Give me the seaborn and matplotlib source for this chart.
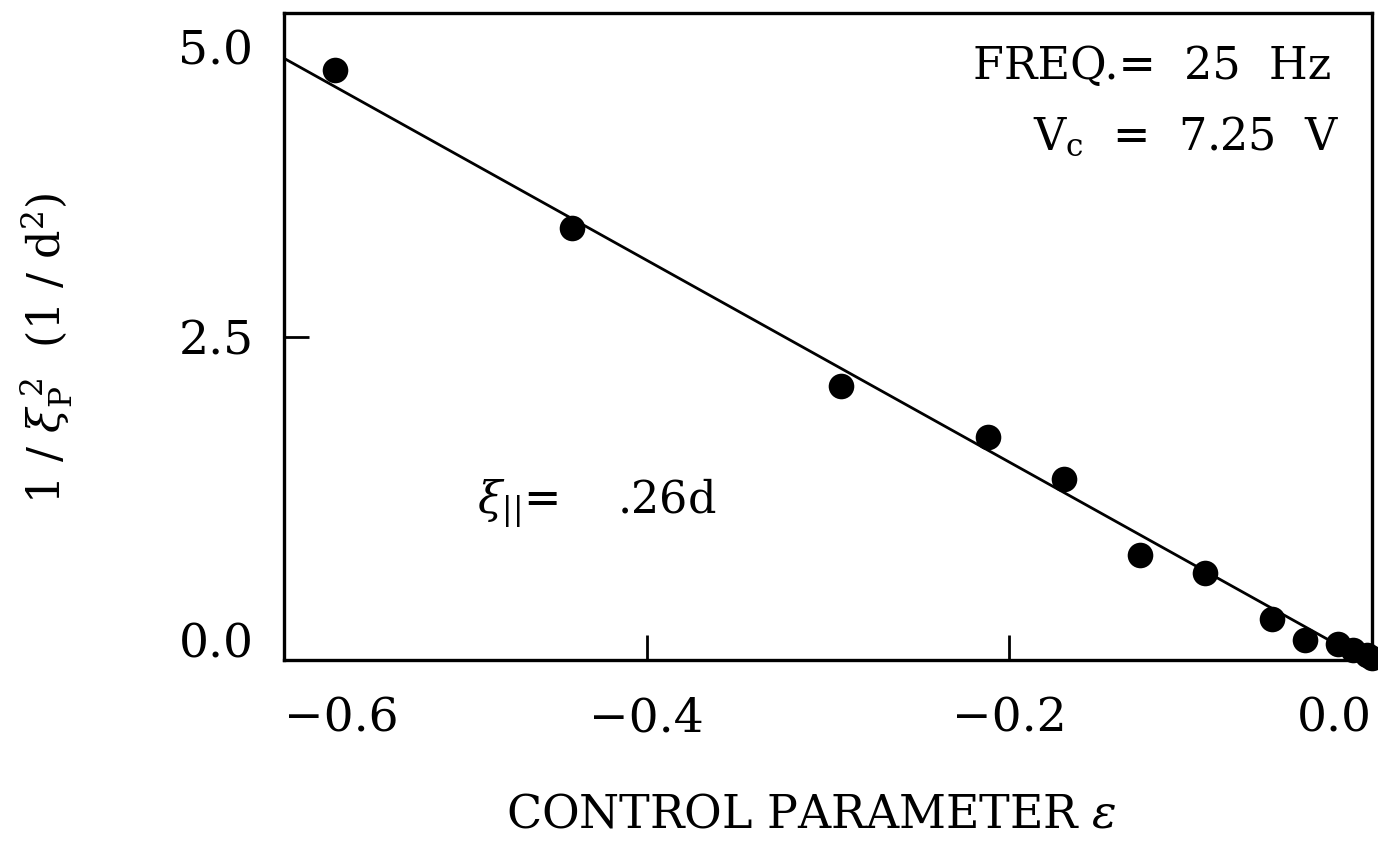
import matplotlib
matplotlib.use("Agg")
import matplotlib.pyplot as plt
import matplotlib.transforms as mtransforms
import seaborn as sns
import pandas as pd

# data
eps = [-0.572, -0.441, -0.293, -0.212, -0.170, -0.128, -0.092, -0.055,
       -0.037, -0.019, -0.0105, -0.003, 0.0]
inv_xi2 = [4.56, 3.34, 2.12, 1.72, 1.40, 0.81, 0.67, 0.32,
           0.155, 0.12, 0.08, 0.04, 0.015]
fit_x = [-0.6, -0.004]
fit_y = [4.65, 0.0]
xticks = [-0.6, -0.4, -0.2, 0.0]
xtick_labels = ["\u22120.6", "\u22120.4", "\u22120.2", "0.0"]
yticks = [0.0, 2.5, 5.0]
ytick_labels = ["0.0", "2.5", "5.0"]

sns.set_theme(style="ticks")
plt.rcParams["font.family"] = ["DejaVu Serif"]
plt.rcParams["mathtext.fontset"] = "dejavuserif"
plt.rcParams["text.color"] = "black"
plt.rcParams["axes.labelcolor"] = "black"

fig = plt.figure(figsize=(13.78, 8.44), dpi=100)
ax = fig.add_axes([284 / 1378, 1 - 660 / 844, (1372 - 284) / 1378, (660 - 13) / 844])

pts = pd.DataFrame({"eps": eps, "y": inv_xi2})
fit = pd.DataFrame({"eps": fit_x, "y": fit_y})

sns.lineplot(data=fit, x="eps", y="y", ax=ax, color="black", lw=2.0)
sns.scatterplot(data=pts, x="eps", y="y", ax=ax, color="black", s=340,
                edgecolor="black", linewidth=0, clip_on=False, zorder=5)

ax.set_xlim(-0.6, 0.0)
ax.set_ylim(0.0, 5.0)
ax.set_xticks(xticks)
ax.set_xticklabels(xtick_labels)
ax.set_yticks(yticks)
ax.set_yticklabels(ytick_labels)
ax.tick_params(axis="both", direction="in", length=18, width=2,
               labelsize=34, colors="black")
ax.tick_params(axis="x", pad=26)
ax.tick_params(axis="y", pad=22)
for s in ax.spines.values():
    s.set_visible(True)
    s.set_linewidth(2.4)
    s.set_color("black")

# shift edge tick labels inward like the original
xl = ax.get_xticklabels()
xl[0].set_ha("left")
xl[-1].set_ha("right")
yl = ax.get_yticklabels()
yl[0].set_va("bottom")
yl[0].set_transform(yl[0].get_transform() +
                    mtransforms.ScaledTranslation(0, -8 / 100, fig.dpi_scale_trans))
yl[-1].set_va("top")
yl[-1].set_transform(yl[-1].get_transform() +
                     mtransforms.ScaledTranslation(0, -16 / 100, fig.dpi_scale_trans))

ax.set_xlabel("CONTROL PARAMETER $\\varepsilon$", fontsize=33)
ax.xaxis.set_label_coords(0.485, -0.205)
ax.set_ylabel("1 / $\\xi_{\\mathrm{P}}^{\\;2}$  (1 / d$^2$)", fontsize=32)
ax.yaxis.set_label_coords(-0.192, 0.482)

ax.text(0.963, 0.917, "FREQ.=  25  Hz", transform=ax.transAxes,
        ha="right", va="center", fontsize=32)
ax.text(0.970, 0.808, "V$_\\mathrm{c}$  =  7.25  V", transform=ax.transAxes,
        ha="right", va="center", fontsize=32)
ax.text(0.177, 0.242, "$\\xi_{||}$=    .26d", transform=ax.transAxes,
        ha="left", va="center", fontsize=32)

fig.savefig("out.png", dpi=100, facecolor="white")
